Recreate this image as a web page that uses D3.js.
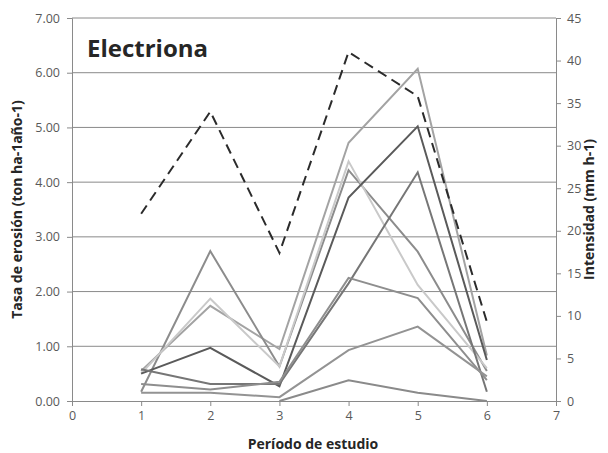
<!DOCTYPE html>
<html>
  <head>
    <meta charset='utf-8'>
    <script src="https://d3js.org/d3.v7.min.js"></script>
    <title>Electriona</title>
    <style>
      body { margin: 0; background: #fff; }
      text { font-family: "Open Sans", sans-serif; }
    </style>
  </head>
  <body>
    <div id='chart'></div>
    <script>

  // periods on the x axis
  var periods = [1, 2, 3, 4, 5, 6];

  // erosion rate series (left axis, ton ha-1 año-1)
  var serie1 = [0.55, 1.74, 0.95, 4.72, 6.07, 0.83];
  var serie2 = [0.17, 2.74, 0.63, 4.22, 2.73, 0.55];
  var serie3 = [0.50, 1.87, 0.63, 4.38, 2.12, 0.60];
  var serie4 = [0.50, 0.97, 0.27, 3.72, 5.02, 0.75];
  var serie5 = [0.58, 0.31, 0.31, 2.15, 4.18, 0.17];
  var serie6 = [0.31, 0.21, 0.35, 2.25, 1.88, 0.38];
  var serie7 = [0.15, 0.15, 0.07, 0.93, 1.36, 0.45];
  var serie8 = [null, null, 0.00, 0.38, 0.15, 0.00];

  // intensity (right axis, mm h-1)
  var intensidad = [22, 34, 17.4, 41, 35.8, 9.3];

  var xTicks = [0, 1, 2, 3, 4, 5, 6, 7];
  var leftTicks = [0, 1, 2, 3, 4, 5, 6, 7];
  var rightTicks = [0, 5, 10, 15, 20, 25, 30, 35, 40, 45];

  var series = [
    { values: serie1, color: "#a3a3a3" },
    { values: serie2, color: "#8c8c8c" },
    { values: serie3, color: "#c9c9c9" },
    { values: serie4, color: "#5a5a5a" },
    { values: serie5, color: "#767676" },
    { values: serie6, color: "#8e8e8e" },
    { values: serie7, color: "#939393" },
    { values: serie8, color: "#8a8a8a" }
  ];

  const W = 608, H = 453;
  const margin = { top: 18, right: 52, bottom: 52, left: 72 };
  const width = W - margin.left - margin.right,
        height = H - margin.top - margin.bottom;

  var svg = d3.select("#chart").append("svg")
    .attr("width", W).attr("height", H);

  var g = svg.append("g")
    .attr("transform", "translate(" + margin.left + "," + margin.top + ")");

  var xScale = d3.scaleLinear().domain([0, 7]).range([0, width]);
  var yLeft = d3.scaleLinear().domain([0, 7]).range([height, 0]);
  var yRight = d3.scaleLinear().domain([0, 45]).range([height, 0]);

  // gridlines
  g.selectAll(".grid").data(leftTicks.slice(1)).enter()
    .append("line")
    .attr("x1", 0).attr("x2", width)
    .attr("y1", d => yLeft(d)).attr("y2", d => yLeft(d))
    .attr("stroke", "#8a8a8a").attr("stroke-width", 1);

  // axes
  var axisColor = "#8a8a8a";
  var xAxis = g.append("g")
    .attr("transform", "translate(0," + height + ")")
    .call(d3.axisBottom(xScale).tickValues(xTicks).tickFormat(d3.format("d")).tickSizeOuter(0).tickSize(5).tickPadding(5));
  var lAxis = g.append("g")
    .call(d3.axisLeft(yLeft).tickValues(leftTicks).tickFormat(d3.format(".2f")).tickSizeOuter(0).tickSize(5).tickPadding(7));
  var rAxis = g.append("g")
    .attr("transform", "translate(" + width + ",0)")
    .call(d3.axisRight(yRight).tickValues(rightTicks).tickSizeOuter(0).tickSize(5).tickPadding(6));

  [xAxis, lAxis, rAxis].forEach(a => {
    a.select(".domain").attr("stroke", axisColor);
    a.selectAll(".tick line").attr("stroke", axisColor);
    a.selectAll(".tick text")
      .attr("fill", "#595959")
      .style("font-size", "12.5px")
      .style("font-family", "'Open Sans', sans-serif");
  });

  // series lines
  var lineLeft = d3.line()
    .defined(d => d != null)
    .x((d, i) => xScale(periods[i]))
    .y(d => yLeft(d));

  series.forEach(s => {
    g.append("path")
      .datum(s.values)
      .attr("fill", "none")
      .attr("stroke", s.color)
      .attr("stroke-width", 2)
      .attr("d", lineLeft);
  });

  var lineRight = d3.line()
    .x((d, i) => xScale(periods[i]))
    .y(d => yRight(d));

  g.append("path")
    .datum(intensidad)
    .attr("fill", "none")
    .attr("stroke", "#2b2b2b")
    .attr("stroke-width", 2)
    .attr("stroke-dasharray", "10,6")
    .attr("d", lineRight);

  // title
  g.append("text")
    .attr("x", 15).attr("y", 39)
    .style("font-size", "24px").style("font-weight", "bold")
    .attr("fill", "#262626")
    .text("Electriona");

  // axis titles
  svg.append("text")
    .attr("x", 313).attr("y", 449)
    .attr("text-anchor", "middle")
    .style("font-size", "14px").style("font-weight", "bold")
    .attr("fill", "#262626")
    .text("Período de estudio");

  svg.append("text")
    .attr("transform", "translate(22," + (margin.top + height / 2) + ") rotate(-90)")
    .attr("text-anchor", "middle")
    .style("font-size", "14px").style("font-weight", "bold")
    .attr("fill", "#262626")
    .text("Tasa de erosión (ton ha-1año-1)");

  svg.append("text")
    .attr("transform", "translate(594," + (margin.top + height / 2) + ") rotate(-90)")
    .attr("text-anchor", "middle")
    .style("font-size", "14px").style("font-weight", "bold")
    .attr("fill", "#262626")
    .text("Intensidad  (mm h-1)");

    </script>
  </body>
</html>
